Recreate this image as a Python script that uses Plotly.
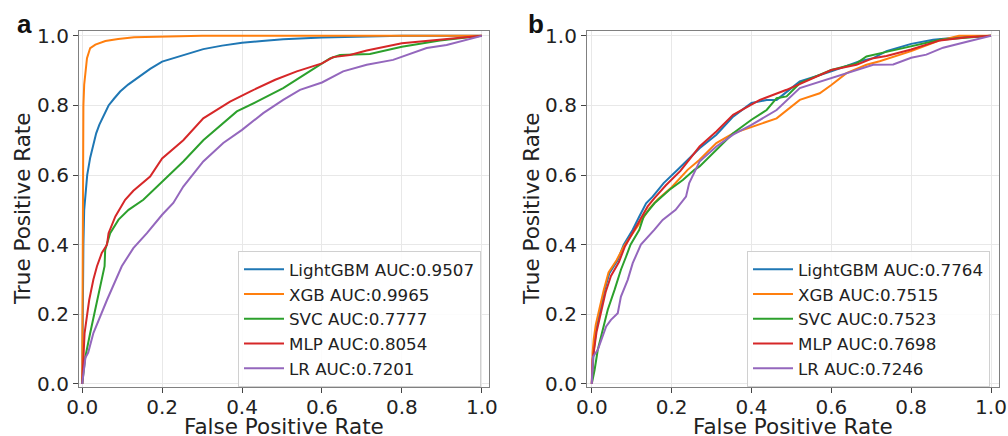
import plotly.graph_objects as go

# ---------------- data ----------------
models = ["LightGBM", "XGB", "SVC", "MLP", "LR"]
auc_a = ["0.9507", "0.9965", "0.7777", "0.8054", "0.7201"]
auc_b = ["0.7764", "0.7515", "0.7523", "0.7698", "0.7246"]
colors = ["#1f77b4", "#ff7f0e", "#2ca02c", "#d62728", "#9467bd"]
tick_vals = [0.0, 0.2, 0.4, 0.6, 0.8, 1.0]
tick_text = ["0.0", "0.2", "0.4", "0.6", "0.8", "1.0"]
x_title = "False Positive Rate"
y_title = "True Positive Rate"
panel_labels = ["a", "b"]

# Panel a
lgbm_a_fpr = [0, 0.001, 0.003, 0.005, 0.008, 0.0125, 0.02, 0.028, 0.035, 0.043, 0.055, 0.066, 0.08, 0.095, 0.115, 0.14, 0.17, 0.2, 0.253, 0.303, 0.35, 0.4, 0.45, 0.503, 0.6, 0.7, 0.8, 1.0]
lgbm_a_tpr = [0, 0.2, 0.4, 0.5, 0.55, 0.60, 0.65, 0.69, 0.72, 0.745, 0.775, 0.80, 0.82, 0.84, 0.86, 0.88, 0.905, 0.926, 0.945, 0.962, 0.972, 0.98, 0.985, 0.99, 0.995, 0.998, 1.0, 1.0]
xgb_a_fpr = [0, 0.0005, 0.001, 0.002, 0.003, 0.005, 0.008, 0.012, 0.02, 0.033, 0.058, 0.09, 0.13, 0.2, 0.3, 1.0]
xgb_a_tpr = [0, 0.2, 0.45, 0.7, 0.8, 0.86, 0.9, 0.936, 0.965, 0.975, 0.985, 0.991, 0.996, 0.998, 1.0, 1.0]
svc_a_fpr = [0, 0.0075, 0.02, 0.037, 0.049, 0.056, 0.0575, 0.07, 0.091, 0.116, 0.153, 0.17, 0.2, 0.253, 0.303, 0.387, 0.437, 0.503, 0.562, 0.6, 0.62, 0.645, 0.72, 0.8, 0.895, 1.0]
svc_a_tpr = [0, 0.075, 0.146, 0.241, 0.309, 0.338, 0.385, 0.433, 0.472, 0.5, 0.529, 0.548, 0.581, 0.639, 0.70, 0.783, 0.811, 0.85, 0.893, 0.921, 0.935, 0.945, 0.948, 0.969, 0.987, 1.0]
mlp_a_fpr = [0, 0.002, 0.006, 0.0125, 0.0175, 0.028, 0.037, 0.049, 0.062, 0.066, 0.083, 0.1075, 0.128, 0.17, 0.2, 0.253, 0.303, 0.37, 0.42, 0.483, 0.537, 0.6, 0.628, 0.67, 0.712, 0.8, 0.895, 1.0]
mlp_a_tpr = [0, 0.05, 0.146, 0.2, 0.241, 0.3, 0.338, 0.376, 0.40, 0.433, 0.481, 0.529, 0.555, 0.596, 0.648, 0.70, 0.763, 0.811, 0.84, 0.874, 0.898, 0.921, 0.939, 0.945, 0.958, 0.979, 0.99, 1.0]
lr_a_fpr = [0, 0.008, 0.015, 0.028, 0.062, 0.099, 0.128, 0.162, 0.2, 0.228, 0.253, 0.303, 0.353, 0.4, 0.453, 0.503, 0.545, 0.6, 0.653, 0.712, 0.778, 0.8, 0.862, 0.912, 0.962, 1.0]
lr_a_tpr = [0, 0.075, 0.09, 0.146, 0.241, 0.338, 0.39, 0.433, 0.486, 0.52, 0.567, 0.639, 0.692, 0.73, 0.778, 0.816, 0.845, 0.866, 0.898, 0.917, 0.931, 0.94, 0.965, 0.974, 0.99, 1.0]

# Panel b
lgbm_b_fpr = [0, 0.002, 0.005, 0.011, 0.022, 0.032, 0.044, 0.065, 0.08, 0.1025, 0.119, 0.136, 0.1525, 0.18, 0.215, 0.27, 0.312, 0.354, 0.4, 0.438, 0.463, 0.488, 0.521, 0.6, 0.671, 0.705, 0.738, 0.8, 0.855, 0.922, 1.0]
lgbm_b_tpr = [0, 0.06, 0.098, 0.155, 0.213, 0.27, 0.318, 0.356, 0.40, 0.443, 0.481, 0.519, 0.538, 0.577, 0.615, 0.677, 0.716, 0.768, 0.807, 0.816, 0.816, 0.84, 0.869, 0.898, 0.927, 0.936, 0.956, 0.977, 0.989, 0.996, 1.0]
xgb_b_fpr = [0, 0.002, 0.005, 0.01, 0.019, 0.03, 0.042, 0.062, 0.08, 0.105, 0.125, 0.145, 0.165, 0.2, 0.24, 0.27, 0.312, 0.354, 0.4, 0.463, 0.521, 0.571, 0.6, 0.638, 0.688, 0.721, 0.8, 0.872, 0.92, 1.0]
xgb_b_tpr = [0, 0.09, 0.13, 0.17, 0.215, 0.27, 0.32, 0.355, 0.395, 0.435, 0.47, 0.505, 0.53, 0.565, 0.615, 0.644, 0.692, 0.72, 0.739, 0.763, 0.816, 0.835, 0.859, 0.893, 0.917, 0.927, 0.956, 0.987, 1.0, 1.0]
svc_b_fpr = [0, 0.007, 0.015, 0.0275, 0.04, 0.057, 0.073, 0.086, 0.097, 0.119, 0.13, 0.157, 0.194, 0.228, 0.257, 0.27, 0.312, 0.354, 0.4, 0.438, 0.463, 0.488, 0.521, 0.6, 0.663, 0.688, 0.738, 0.8, 0.872, 1.0]
svc_b_tpr = [0, 0.04, 0.098, 0.155, 0.213, 0.27, 0.328, 0.366, 0.40, 0.443, 0.481, 0.519, 0.557, 0.586, 0.615, 0.625, 0.672, 0.72, 0.759, 0.787, 0.821, 0.826, 0.864, 0.902, 0.921, 0.941, 0.954, 0.97, 0.989, 1.0]
mlp_b_fpr = [0, 0.002, 0.006, 0.012, 0.024, 0.035, 0.048, 0.068, 0.083, 0.105, 0.122, 0.14, 0.158, 0.185, 0.222, 0.27, 0.312, 0.354, 0.421, 0.488, 0.6, 0.663, 0.705, 0.738, 0.8, 0.872, 0.94, 1.0]
mlp_b_tpr = [0, 0.07, 0.1, 0.15, 0.21, 0.265, 0.31, 0.35, 0.395, 0.44, 0.475, 0.51, 0.535, 0.57, 0.612, 0.682, 0.725, 0.773, 0.816, 0.845, 0.902, 0.917, 0.936, 0.942, 0.961, 0.987, 0.996, 1.0]
lr_b_fpr = [0, 0.001, 0.003, 0.015, 0.036, 0.048, 0.065, 0.073, 0.09, 0.1025, 0.123, 0.157, 0.1775, 0.21, 0.236, 0.244, 0.26, 0.27, 0.312, 0.354, 0.4, 0.463, 0.521, 0.6, 0.663, 0.705, 0.755, 0.8, 0.838, 0.88, 0.947, 1.0]
lr_b_tpr = [0, 0.06, 0.078, 0.098, 0.165, 0.184, 0.203, 0.251, 0.299, 0.347, 0.40, 0.443, 0.471, 0.50, 0.538, 0.577, 0.615, 0.639, 0.682, 0.716, 0.744, 0.787, 0.85, 0.878, 0.902, 0.917, 0.918, 0.937, 0.946, 0.966, 0.985, 1.0]

curves_a = [(lgbm_a_fpr, lgbm_a_tpr), (xgb_a_fpr, xgb_a_tpr), (svc_a_fpr, svc_a_tpr), (mlp_a_fpr, mlp_a_tpr), (lr_a_fpr, lr_a_tpr)]
curves_b = [(lgbm_b_fpr, lgbm_b_tpr), (xgb_b_fpr, xgb_b_tpr), (svc_b_fpr, svc_b_tpr), (mlp_b_fpr, mlp_b_tpr), (lr_b_fpr, lr_b_tpr)]

# ---------------- figure ----------------
W, H = 1008, 436
FONT = "DejaVu Sans"
fig = go.Figure()

for i, (fx, ty) in enumerate(curves_a):
    fig.add_trace(go.Scatter(x=fx, y=ty, mode="lines", name=f"{models[i]} AUC:{auc_a[i]}",
                             line=dict(color=colors[i], width=2), xaxis="x", yaxis="y", legend="legend"))
for i, (fx, ty) in enumerate(curves_b):
    fig.add_trace(go.Scatter(x=fx, y=ty, mode="lines", name=f"{models[i]} AUC:{auc_b[i]}",
                             line=dict(color=colors[i], width=2), xaxis="x2", yaxis="y2", legend="legend2"))

def px_x(p):
    return p / W

def px_y(p):
    return 1 - p / H

axis_common = dict(
    automargin=False,
    tickmode="array", tickvals=tick_vals, ticktext=tick_text,
    tickfont=dict(family=FONT, size=20, color="#222"),
    ticks="outside", ticklen=5, tickwidth=1, tickcolor="#444",
    showline=True, linecolor="#808080", linewidth=1.2, mirror=True,
    showgrid=True, gridcolor="#e8e8e8", gridwidth=1, zeroline=False,
)

title_font = dict(family=FONT, size=21.5, color="#222")
label_font = dict(family="Liberation Sans", size=26, color="#111")
legend_common = dict(yanchor="top", xanchor="left", itemwidth=40,
                     bgcolor="rgba(255,255,255,0.85)", bordercolor="#d0d0d0", borderwidth=1,
                     font=dict(family=FONT, size=16.7, color="#222"))

ydom = [px_y(387), px_y(31)]
annotations = []
for j, (xc, yc) in enumerate([(284, 23), (793, 532)]):
    annotations.append(dict(text=x_title, x=px_x(xc), y=px_y(426), xref="paper", yref="paper",
                            xanchor="center", yanchor="middle", showarrow=False, font=title_font))
    annotations.append(dict(text=y_title, x=px_x(yc), y=px_y(209), xref="paper", yref="paper",
                            xanchor="center", yanchor="middle", textangle=-90, showarrow=False, font=title_font))
for lab, xc in zip(panel_labels, [24.5, 536]):
    annotations.append(dict(text=f"<b>{lab}</b>", x=px_x(xc), y=px_y(24), xref="paper", yref="paper",
                            xanchor="center", yanchor="middle", showarrow=False, font=label_font))

fig.update_layout(
    width=W, height=H,
    margin=dict(l=0, r=0, t=0, b=0, autoexpand=False),
    paper_bgcolor="white", plot_bgcolor="white",
    font=dict(family=FONT, color="#222"),
    xaxis=dict(domain=[px_x(79), px_x(489)], range=[-0.008, 1.018], anchor="y", ticklabelstandoff=-3, **axis_common),
    yaxis=dict(domain=ydom, range=[-0.009, 1.014], anchor="x", **axis_common),
    xaxis2=dict(domain=[px_x(587), px_x(999)], range=[-0.012, 1.02], anchor="y2", ticklabelstandoff=-3, **axis_common),
    yaxis2=dict(domain=ydom, range=[-0.009, 1.014], anchor="x2", **axis_common),
    legend=dict(x=px_x(238), y=px_y(251), **legend_common),
    legend2=dict(x=px_x(747), y=px_y(251), **legend_common),
    annotations=annotations,
)

fig.write_html("out.html", config={"displayModeBar": False},
               post_script="document.body.style.margin='0';document.body.style.overflow='hidden';")
